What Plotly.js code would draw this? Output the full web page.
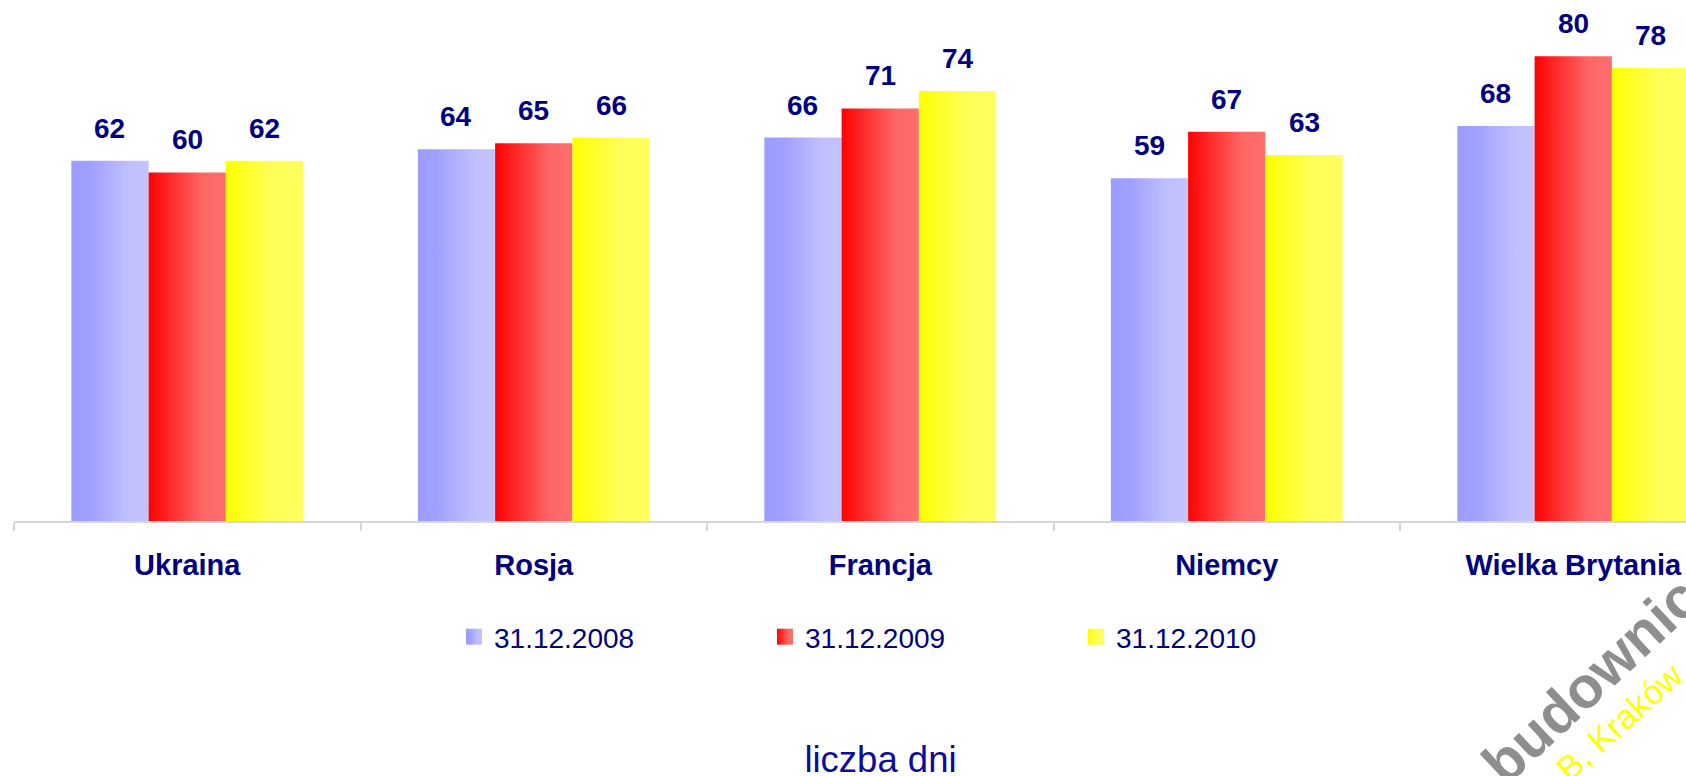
<!DOCTYPE html>
<html>
<head>
<meta charset="utf-8">
<script src="https://cdn.plot.ly/plotly-3.0.1.min.js"></script>
<style>
  html, body { margin: 0; padding: 0; background: #ffffff; overflow: hidden; }
  #chart { width: 1686px; height: 776px; }
</style>
</head>
<body>
<div id="chart"></div>
<script>
// ---- data ----
const categories = ["Ukraina", "Rosja", "Francja", "Niemcy", "Wielka Brytania"];
const seriesNames = ["31.12.2008", "31.12.2009", "31.12.2010"];
const values2008 = [62, 64, 66, 59, 68];
const values2009 = [60, 65, 71, 67, 80];
const values2010 = [62, 66, 74, 63, 78];
const axisTitle = "liczba dni";
const watermarkMain = "budownic";
const watermarkSub = "B, Kraków";

// ---- styles ----
const seriesValues = [values2008, values2009, values2010];
const baseColors = ["#b0b0ff", "#ff4040", "#ffff40"];
const gradients = [
  [["0", "#9c9cff"], ["0.25", "#a0a0ff"], ["0.75", "#c0c0ff"], ["1", "#c3c3ff"]],
  [["0", "#ff0000"], ["0.1", "#ff1010"], ["0.7", "#ff6666"], ["1", "#ff6e6e"]],
  [["0", "#ffff00"], ["0.1", "#ffff10"], ["0.6", "#ffff58"], ["1", "#ffff60"]]
];
const navy = "#000080";
const FONT = "Liberation Sans, Arial, sans-serif";
const bargap = 0.331;
const W = 1686, H = 776, ML = 14, MB = 255;
const plotW = W - ML, plotH = H - MB;
const pxPerCat = 346.5;

const traces = seriesValues.map((vals, k) => ({
  type: "bar",
  name: seriesNames[k],
  x: categories,
  y: vals,
  marker: { color: baseColors[k], line: { width: 0 } },
  hoverinfo: "skip"
}));

// value labels above each bar (positions follow the grouped-bar offsets)
const nS = seriesValues.length;
const bw = (1 - bargap) / nS;
const annotations = [];
seriesValues.forEach((vals, k) => {
  vals.forEach((v, i) => {
    annotations.push({
      xref: "x", yref: "y",
      x: i + (k - (nS - 1) / 2) * bw,
      y: v,
      text: "<b>" + v + "</b>",
      showarrow: false,
      xanchor: "center", yanchor: "bottom",
      yshift: 15,
      font: { family: FONT, size: 28, color: navy }
    });
  });
});

// watermark remnants
function px2paper(x, y) { return [(x - ML) / plotW, (plotH - y) / plotH]; }
let p = px2paper(1590, 680);
annotations.push({
  xref: "paper", yref: "paper", x: p[0], y: p[1],
  text: "<b>" + watermarkMain + "</b>", showarrow: false, textangle: -43,
  xanchor: "center", yanchor: "middle",
  font: { family: FONT, size: 58, color: "#8e8e8e" }
});
p = px2paper(1619, 722);
annotations.push({
  xref: "paper", yref: "paper", x: p[0], y: p[1],
  text: watermarkSub, showarrow: false, textangle: -42,
  xanchor: "center", yanchor: "middle",
  font: { family: FONT, size: 34, color: "#ffff00" }
});

const layout = {
  width: W, height: H,
  margin: { l: ML, r: 0, t: 0, b: MB, pad: 0 },
  paper_bgcolor: "#ffffff",
  plot_bgcolor: "#ffffff",
  barmode: "group",
  bargap: bargap,
  bargroupgap: 0,
  showlegend: true,
  font: { family: FONT, color: navy },
  title: {
    text: axisTitle,
    x: 880.5 / W, xanchor: "center", xref: "container",
    y: (H - 759) / H, yanchor: "middle", yref: "container",
    font: { family: FONT, size: 36.5, color: "#0c0c9c" }
  },
  xaxis: {
    type: "category",
    range: [-0.5, -0.5 + plotW / pxPerCat],
    showline: true, linecolor: "#d6d6d6", linewidth: 2,
    ticks: "outside", tickson: "boundaries", ticklen: 8, tickwidth: 2, tickcolor: "#d6d6d6",
    ticklabelstandoff: 17,
    tickfont: { family: FONT, size: 29, color: navy, weight: "bold" },
    showgrid: false, zeroline: false, fixedrange: true
  },
  yaxis: {
    range: [0, plotH / 5.81],
    visible: false, showgrid: false, zeroline: false, fixedrange: true
  },
  legend: {
    orientation: "h",
    x: (454 - ML) / plotW, xanchor: "left",
    y: (plotH - 637) / plotH, yanchor: "middle",
    entrywidth: 266, entrywidthmode: "pixels",
    font: { family: FONT, size: 28, color: navy },
    bgcolor: "rgba(0,0,0,0)", borderwidth: 0,
    traceorder: "normal"
  },
  annotations: annotations
};

Plotly.newPlot("chart", traces, layout, { displayModeBar: false, staticPlot: true }).then(gd => {
  const svgNS = "http://www.w3.org/2000/svg";
  const svg = gd.querySelector(".main-svg");
  let defs = svg.querySelector("defs");
  if (!defs) { defs = document.createElementNS(svgNS, "defs"); svg.insertBefore(defs, svg.firstChild); }
  gradients.forEach((stops, k) => {
    const g = document.createElementNS(svgNS, "linearGradient");
    g.setAttribute("id", "barGrad" + k);
    g.setAttribute("x1", "0"); g.setAttribute("y1", "0");
    g.setAttribute("x2", "1"); g.setAttribute("y2", "0");
    stops.forEach(s => {
      const st = document.createElementNS(svgNS, "stop");
      st.setAttribute("offset", s[0]);
      st.setAttribute("stop-color", s[1]);
      g.appendChild(st);
    });
    defs.appendChild(g);
  });
  gd.querySelectorAll(".barlayer .trace").forEach((tr, k) => {
    tr.querySelectorAll("path").forEach(pa => {
      pa.style.fill = "url(#barGrad" + k + ")";
      pa.style.stroke = "none";
    });
  });
  gd.querySelectorAll(".legend .traces").forEach((tr, k) => {
    tr.querySelectorAll(".legendpoints path").forEach(pa => {
      pa.setAttribute("d", "M8,8H-8V-8H8Z");
      pa.style.fill = "url(#barGrad" + k + ")";
      pa.style.stroke = "none";
    });
  });
});
</script>
</body>
</html>
